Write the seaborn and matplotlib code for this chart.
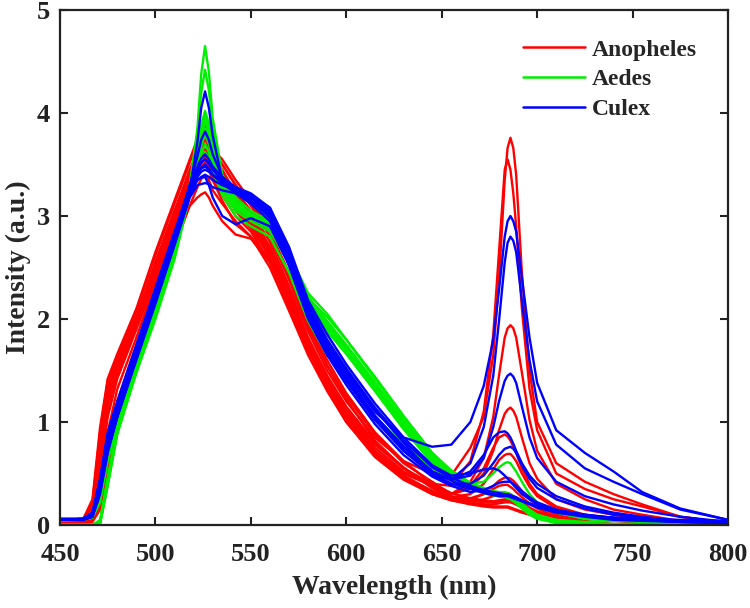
import numpy as np
import pandas as pd
import matplotlib
matplotlib.use("Agg")
import matplotlib.pyplot as plt
import seaborn as sns
from matplotlib.lines import Line2D

# Wavelength grid (nm)
WAVELENGTH = [450, 462, 467, 471, 475, 480, 490, 500, 510,
              518, 522, 524, 526, 528, 530, 535, 542, 550,
              560, 570, 580, 590, 600, 615, 630, 645, 655,
              665, 672, 677, 680, 683, 684.5, 686, 687.5, 689, 692, 696, 700, 710, 725, 740, 755, 775, 800]

SPECIES = ["Anopheles", "Aedes", "Culex"]

# Anopheles spectra (red)
ANO_1 = [0.04,0.05,0.18,0.80,1.30,1.58,2.02,2.55,3.05, 3.40,3.58,3.66,3.70,3.65,3.55,3.42,3.25,3.05, 2.75,2.32,1.88,1.50,1.20,0.85,0.62,0.50,0.48, 0.75,1.05,1.65,2.38,3.35,3.66,3.76,3.66,3.40,2.45,1.50,1.00,0.60,0.42,0.30,0.20,0.08,0.02]
ANO_2 = [0.04,0.04,0.12,0.62,1.18,1.50,1.95,2.45,2.95, 3.35,3.55,3.62,3.65,3.60,3.50,3.38,3.18,2.98, 2.68,2.25,1.80,1.42,1.12,0.78,0.55,0.40,0.38, 0.62,1.10,1.85,2.65,3.45,3.55,3.45,3.22,2.90,2.10,1.32,0.92,0.50,0.35,0.25,0.18,0.08,0.02]
ANO_3 = [0.03,0.03,0.06,0.35,0.90,1.32,1.82,2.35,2.90, 3.30,3.52,3.59,3.62,3.56,3.45,3.30,3.10,2.92, 2.62,2.20,1.75,1.40,1.10,0.75,0.52,0.38,0.30, 0.42,0.65,1.05,1.45,1.82,1.91,1.94,1.91,1.82,1.48,1.02,0.72,0.40,0.25,0.15,0.10,0.04,0.01]
ANO_4 = [0.04,0.05,0.22,0.90,1.40,1.62,2.08,2.62,3.12, 3.52,3.72,3.82,3.87,3.80,3.65,3.50,3.30,3.10, 2.80,2.38,1.92,1.55,1.25,0.88,0.60,0.42,0.30, 0.35,0.50,0.72,0.92,1.08,1.12,1.14,1.11,1.05,0.85,0.60,0.45,0.25,0.15,0.10,0.06,0.02,0.00]
ANO_5 = [0.02,0.02,0.05,0.25,0.75,1.20,1.75,2.25,2.80, 3.20,3.40,3.47,3.50,3.45,3.35,3.20,3.00,2.85, 2.55,2.12,1.70,1.35,1.05,0.72,0.50,0.38,0.30, 0.38,0.55,0.75,0.85,0.88,0.86,0.82,0.76,0.70,0.55,0.40,0.30,0.18,0.10,0.06,0.03,0.01,0.00]
ANO_6 = [0.04,0.05,0.15,0.72,1.25,1.55,2.00,2.50,3.00, 3.38,3.58,3.68,3.74,3.68,3.58,3.45,3.22,3.02, 2.70,2.28,1.82,1.45,1.15,0.80,0.56,0.36,0.27, 0.30,0.40,0.54,0.63,0.68,0.69,0.69,0.66,0.62,0.50,0.37,0.28,0.16,0.08,0.04,0.02,0.00,0.00]
ANO_7 = [0.00,0.00,0.03,0.15,0.55,1.02,1.62,2.12,2.70, 3.10,3.28,3.36,3.40,3.35,3.25,3.12,2.95,2.80, 2.50,2.08,1.65,1.30,1.00,0.68,0.46,0.32,0.25, 0.25,0.30,0.38,0.43,0.46,0.46,0.45,0.43,0.40,0.33,0.25,0.19,0.10,0.04,0.01,0.00,0.00,0.00]
ANO_8 = [0.04,0.04,0.10,0.55,1.10,1.45,1.92,2.42,2.92, 3.30,3.48,3.55,3.58,3.53,3.45,3.35,3.15,2.95, 2.65,2.22,1.78,1.40,1.08,0.72,0.48,0.33,0.26, 0.26,0.30,0.35,0.38,0.39,0.39,0.37,0.35,0.32,0.27,0.21,0.16,0.08,0.02,0.00,0.00,0.00,0.00]
ANO_9 = [0.04,0.05,0.20,0.85,1.35,1.60,2.02,2.50,2.90, 3.10,3.18,3.21,3.23,3.18,3.10,2.95,2.82,2.78, 2.55,2.18,1.72,1.32,1.00,0.66,0.44,0.30,0.24, 0.21,0.19,0.18,0.18,0.18,0.18,0.17,0.16,0.15,0.13,0.11,0.09,0.04,0.00,0.00,0.00,0.00,0.00]
ANO_10 = [0.03,0.04,0.12,0.65,1.20,1.52,1.98,2.48,2.98, 3.35,3.50,3.54,3.55,3.47,3.35,3.15,2.92,2.80, 2.58,2.15,1.70,1.33,1.02,0.68,0.45,0.30,0.24, 0.20,0.18,0.17,0.17,0.17,0.17,0.16,0.15,0.14,0.12,0.10,0.08,0.03,0.00,0.00,0.00,0.00,0.00]
ANO_11 = [0.04,0.05,0.16,0.78,1.30,1.56,2.00,2.55,3.05, 3.45,3.62,3.72,3.78,3.72,3.62,3.50,3.30,3.12, 2.85,2.45,1.98,1.60,1.28,0.90,0.62,0.40,0.31, 0.26,0.24,0.23,0.24,0.25,0.25,0.25,0.24,0.23,0.20,0.16,0.13,0.07,0.02,0.00,0.00,0.00,0.00]
ANO_12 = [0.02,0.02,0.04,0.20,0.65,1.10,1.68,2.20,2.75, 3.20,3.42,3.49,3.52,3.47,3.38,3.25,3.05,2.88, 2.60,2.15,1.72,1.36,1.05,0.70,0.47,0.33,0.27, 0.24,0.22,0.22,0.23,0.24,0.24,0.23,0.22,0.20,0.17,0.14,0.11,0.05,0.01,0.00,0.00,0.00,0.00]
ANO_13 = [0.04,0.05,0.25,0.95,1.42,1.66,2.10,2.65,3.15, 3.55,3.75,3.80,3.82,3.75,3.65,3.55,3.35,3.15, 2.85,2.42,1.95,1.55,1.22,0.82,0.55,0.36,0.28, 0.22,0.20,0.20,0.21,0.22,0.22,0.22,0.21,0.20,0.17,0.14,0.11,0.06,0.01,0.00,0.00,0.00,0.00]
ANO_14 = [0.03,0.04,0.10,0.50,1.05,1.42,1.90,2.38,2.88, 3.25,3.45,3.52,3.56,3.50,3.40,3.28,3.08,2.90, 2.62,2.20,1.76,1.38,1.06,0.70,0.47,0.31,0.25, 0.22,0.25,0.28,0.30,0.31,0.31,0.30,0.28,0.26,0.22,0.17,0.13,0.07,0.02,0.00,0.00,0.00,0.00]

# Aedes spectra (green)
AED_1 = [0.00,0.00,0.00,0.02,0.42,0.92,1.52,2.06,2.65, 3.30,3.85,4.38,4.65,4.40,3.95,3.40,3.18,3.05, 2.95,2.65,2.22,1.98,1.75,1.38,1.00,0.66,0.50, 0.38,0.33,0.30,0.29,0.28,0.27,0.26,0.24,0.22,0.18,0.12,0.08,0.03,0.00,0.00,0.00,0.00,0.00]
AED_2 = [0.00,0.00,0.00,0.03,0.45,0.95,1.55,2.08,2.68, 3.28,3.80,4.20,4.42,4.22,3.88,3.35,3.15,3.02, 2.92,2.62,2.18,1.95,1.72,1.35,0.98,0.65,0.48, 0.36,0.31,0.29,0.28,0.28,0.27,0.26,0.24,0.22,0.17,0.11,0.07,0.02,0.00,0.00,0.00,0.00,0.00]
AED_3 = [0.00,0.00,0.00,0.02,0.40,0.90,1.50,2.05,2.62, 3.25,3.62,3.88,4.02,3.90,3.70,3.30,3.12,3.00, 2.90,2.60,2.15,1.92,1.70,1.32,0.95,0.62,0.47, 0.36,0.32,0.30,0.30,0.30,0.29,0.28,0.26,0.24,0.19,0.13,0.08,0.03,0.01,0.00,0.00,0.00,0.00]
AED_4 = [0.04,0.05,0.07,0.22,0.62,0.98,1.55,2.10,2.68, 3.30,3.60,3.85,3.97,3.86,3.64,3.25,3.05,2.95, 2.85,2.55,2.10,1.88,1.66,1.30,0.93,0.60,0.46, 0.40,0.42,0.50,0.56,0.60,0.61,0.60,0.56,0.52,0.42,0.30,0.22,0.12,0.06,0.04,0.03,0.02,0.01]
AED_5 = [0.00,0.00,0.00,0.03,0.45,0.92,1.50,2.02,2.60, 3.22,3.52,3.78,3.92,3.80,3.58,3.25,3.08,2.98, 2.88,2.58,2.12,1.90,1.68,1.33,0.96,0.64,0.49, 0.37,0.32,0.29,0.28,0.27,0.26,0.25,0.23,0.21,0.16,0.10,0.06,0.02,0.00,0.00,0.00,0.00,0.00]
AED_6 = [0.00,0.00,0.00,0.02,0.38,0.88,1.48,2.02,2.62, 3.25,3.48,3.68,3.80,3.70,3.53,3.28,3.10,3.00, 2.90,2.60,2.18,1.96,1.74,1.38,1.02,0.68,0.52, 0.40,0.35,0.32,0.31,0.30,0.29,0.28,0.26,0.24,0.19,0.13,0.09,0.05,0.03,0.04,0.05,0.04,0.03]
AED_7 = [0.00,0.00,0.00,0.05,0.45,0.90,1.48,2.00,2.58, 3.20,3.42,3.60,3.70,3.62,3.44,3.20,3.00,2.90, 2.80,2.45,1.98,1.65,1.40,1.05,0.78,0.55,0.45, 0.36,0.31,0.29,0.28,0.28,0.27,0.26,0.25,0.23,0.19,0.14,0.10,0.05,0.02,0.01,0.00,0.00,0.00]
AED_8 = [0.00,0.00,0.00,0.02,0.40,0.90,1.50,2.04,2.62, 3.25,3.43,3.55,3.62,3.56,3.44,3.25,3.08,2.98, 2.88,2.60,2.20,2.02,1.80,1.42,1.05,0.70,0.53, 0.41,0.36,0.33,0.32,0.32,0.31,0.30,0.28,0.26,0.21,0.15,0.10,0.04,0.01,0.00,0.00,0.00,0.00]
AED_9 = [0.00,0.00,0.00,0.03,0.42,0.90,1.50,2.03,2.62, 3.24,3.50,3.72,3.85,3.74,3.55,3.27,3.10,3.00, 2.92,2.63,2.25,2.05,1.80,1.44,1.06,0.70,0.52, 0.39,0.34,0.31,0.30,0.29,0.28,0.27,0.25,0.23,0.18,0.12,0.08,0.03,0.00,0.00,0.00,0.00,0.00]
AED_10 = [0.00,0.00,0.00,0.02,0.40,0.90,1.50,2.04,2.63, 3.26,3.58,3.80,3.95,3.82,3.62,3.30,3.12,3.02, 2.93,2.62,2.17,1.93,1.71,1.35,0.98,0.65,0.50, 0.38,0.33,0.31,0.30,0.30,0.29,0.28,0.26,0.24,0.19,0.13,0.08,0.03,0.00,0.00,0.00,0.00,0.00]

# Culex spectra (blue)
CUL_1 = [0.05,0.06,0.10,0.40,0.85,1.15,1.70,2.25,2.80, 3.22,3.38,3.43,3.45,3.43,3.40,3.35,3.28,3.20, 3.05,2.62,2.10,1.75,1.48,1.10,0.85,0.76,0.78, 1.00,1.35,1.80,2.28,2.80,2.95,3.00,2.95,2.85,2.40,1.82,1.38,0.92,0.70,0.52,0.32,0.16,0.05]
CUL_2 = [0.05,0.05,0.08,0.32,0.72,1.05,1.62,2.18,2.75, 3.25,3.72,4.05,4.21,4.05,3.78,3.35,3.22,3.15, 3.00,2.58,2.05,1.70,1.42,1.03,0.72,0.50,0.44, 0.60,0.95,1.45,1.98,2.55,2.74,2.80,2.76,2.65,2.18,1.60,1.20,0.78,0.55,0.42,0.30,0.15,0.05]
CUL_3 = [0.05,0.06,0.10,0.38,0.80,1.12,1.68,2.22,2.78, 3.30,3.58,3.74,3.82,3.74,3.60,3.38,3.25,3.15, 2.98,2.55,2.02,1.68,1.40,1.02,0.75,0.52,0.44, 0.48,0.65,0.95,1.20,1.40,1.45,1.47,1.44,1.38,1.15,0.85,0.65,0.42,0.28,0.20,0.14,0.08,0.03]
CUL_4 = [0.05,0.05,0.09,0.35,0.75,1.08,1.65,2.20,2.76, 3.25,3.42,3.47,3.50,3.46,3.40,3.32,3.25,3.18, 3.02,2.60,2.08,1.72,1.45,1.06,0.76,0.52,0.44, 0.52,0.68,0.85,0.90,0.91,0.89,0.85,0.79,0.72,0.60,0.48,0.40,0.28,0.18,0.12,0.08,0.04,0.02]
CUL_5 = [0.06,0.06,0.11,0.42,0.88,1.18,1.72,2.28,2.82, 3.28,3.48,3.56,3.60,3.55,3.48,3.38,3.28,3.22, 3.08,2.65,2.12,1.78,1.50,1.12,0.80,0.50,0.40, 0.40,0.48,0.60,0.68,0.74,0.75,0.76,0.74,0.70,0.58,0.45,0.36,0.25,0.16,0.10,0.07,0.04,0.02]
CUL_6 = [0.05,0.05,0.08,0.30,0.70,1.05,1.60,2.15,2.72, 3.20,3.35,3.38,3.40,3.38,3.35,3.30,3.25,3.20, 3.08,2.70,2.18,1.85,1.56,1.18,0.85,0.58,0.48, 0.50,0.54,0.55,0.53,0.48,0.45,0.42,0.39,0.36,0.30,0.25,0.20,0.14,0.10,0.07,0.05,0.03,0.02]
CUL_7 = [0.05,0.06,0.12,0.45,0.90,1.20,1.75,2.30,2.85, 3.28,3.42,3.46,3.48,3.45,3.40,3.32,3.22,3.12, 2.95,2.52,2.00,1.65,1.36,0.98,0.68,0.47,0.38, 0.32,0.34,0.38,0.41,0.42,0.42,0.42,0.40,0.38,0.33,0.27,0.22,0.15,0.10,0.07,0.05,0.03,0.02]
CUL_8 = [0.05,0.05,0.09,0.36,0.78,1.10,1.66,2.20,2.76, 3.22,3.35,3.37,3.38,3.30,3.18,3.00,2.92,2.98, 2.90,2.52,2.02,1.68,1.40,1.02,0.72,0.49,0.40, 0.35,0.31,0.29,0.28,0.28,0.28,0.27,0.26,0.25,0.23,0.20,0.17,0.12,0.08,0.05,0.04,0.03,0.02]
CUL_9 = [0.06,0.06,0.12,0.44,0.88,1.18,1.72,2.26,2.82, 3.30,3.45,3.52,3.55,3.51,3.45,3.35,3.25,3.18, 3.02,2.60,2.08,1.72,1.44,1.06,0.76,0.52,0.43, 0.36,0.32,0.30,0.29,0.29,0.29,0.28,0.27,0.26,0.24,0.21,0.18,0.13,0.09,0.07,0.06,0.04,0.03]
CUL_10 = [0.05,0.05,0.08,0.32,0.72,1.05,1.62,2.16,2.72, 3.18,3.30,3.31,3.32,3.31,3.28,3.25,3.22,3.18, 3.05,2.66,2.14,1.80,1.52,1.14,0.82,0.56,0.46, 0.38,0.34,0.32,0.31,0.30,0.30,0.29,0.28,0.27,0.24,0.21,0.18,0.13,0.09,0.07,0.06,0.05,0.04]

ANOPHELES = [ANO_1, ANO_2, ANO_3, ANO_4, ANO_5, ANO_6, ANO_7, ANO_8, ANO_9, ANO_10, ANO_11, ANO_12, ANO_13, ANO_14]
AEDES = [AED_1, AED_2, AED_3, AED_4, AED_5, AED_6, AED_7, AED_8, AED_9, AED_10]
CULEX = [CUL_1, CUL_2, CUL_3, CUL_4, CUL_5, CUL_6, CUL_7, CUL_8, CUL_9, CUL_10]

X_TICKS = [450, 500, 550, 600, 650, 700, 750, 800]
Y_TICKS = [0, 1, 2, 3, 4, 5]
COLORS = {"Anopheles": "#ff0000", "Aedes": "#00ee00", "Culex": "#0000ff"}

rows = []
for name, group in zip(SPECIES, [ANOPHELES, AEDES, CULEX]):
    for k, curve in enumerate(group):
        assert len(curve) == len(WAVELENGTH), (name, k, len(curve))
        for w, v in zip(WAVELENGTH, curve):
            rows.append({"species": name, "curve": f"{name}_{k}", "wl": w, "I": v})
df = pd.DataFrame(rows)

sns.set_style("ticks")
plt.rcParams["font.family"] = ["Liberation Serif", "DejaVu Serif"]
plt.rcParams["font.weight"] = "bold"

fig = plt.figure(figsize=(7.5, 6.08), dpi=100)
ax = fig.add_axes([0.08, 0.1365, 0.8907, 0.847])

sns.lineplot(data=df, x="wl", y="I", hue="species", units="curve",
             estimator=None, palette=COLORS, hue_order=SPECIES,
             linewidth=1.7, ax=ax, legend=False, sort=False)

ax.set_xlim(450, 800)
ax.set_ylim(0, 5)
ax.set_xticks(X_TICKS)
ax.set_yticks(Y_TICKS)
ax.tick_params(direction="in", length=6, width=1.5, top=True, right=True,
               labelsize=19, pad=7, colors="#222222")
ax.tick_params(axis="x", pad=13)
for lab in ax.get_xticklabels() + ax.get_yticklabels():
    lab.set_fontweight("bold")
for s in ax.spines.values():
    s.set_linewidth(1.6)
    s.set_color("#222222")
    s.set_visible(True)

ax.set_xlabel("Wavelength (nm)", fontsize=20, fontweight="bold", labelpad=6)
ax.set_ylabel("Intensity (a.u.)", fontsize=20, fontweight="bold", labelpad=4)

handles = [Line2D([0], [0], color=COLORS[s], lw=1.8) for s in SPECIES]
leg = ax.legend(handles, SPECIES, loc="upper right", frameon=False,
                handlelength=2.6, handletextpad=0.3,
                labelspacing=0.35, bbox_to_anchor=(0.985, 0.985),
                prop={"weight": "bold", "size": 17})

fig.savefig("out.png", dpi=100)
